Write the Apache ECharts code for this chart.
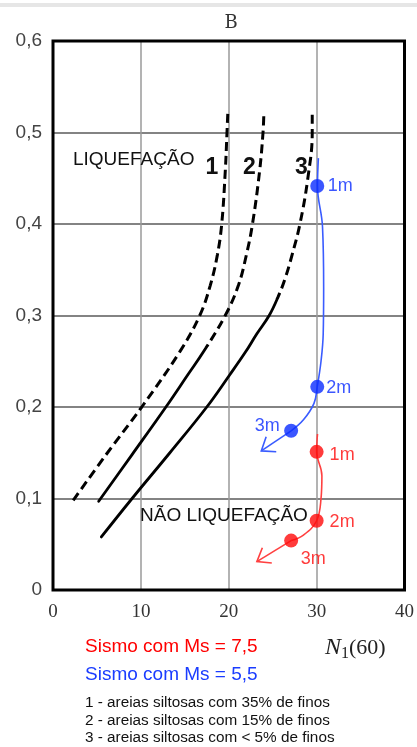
<!DOCTYPE html>
<html><head><meta charset="utf-8">
<script src="https://cdn.jsdelivr.net/npm/echarts@6/dist/echarts.min.js"></script>
<style>html,body{margin:0;padding:0;background:#fff}#c{width:417px;height:747px}</style>
</head><body><div id="c"></div>
<script>
// ---- data ----
const xTickLabels = ['0', '10', '20', '30', '40'];
const yTickLabels = ['0', '0,1', '0,2', '0,3', '0,4', '0,5', '0,6'];

// curve 1: dashed over its whole length
const curve1 = [[2.3,0.098],[6.2,0.15],[10.1,0.2],[14.4,0.26],[16.7,0.3],[17.9,0.333],[18.7,0.366],[19.2,0.4],[19.6,0.457],[19.8,0.5],[19.9,0.523]];
// curve 2: solid below curve2Break, dashed above
const curve2 = [[5.2,0.097],[9.0,0.148],[12.85,0.2],[15.4,0.236],[17.1,0.26],[19.6,0.3],[21.1,0.333],[22.0,0.366],[22.7,0.4],[23.5,0.457],[23.9,0.5],[24.0,0.523]];
const curve2Break = 0.266;
// curve 3: solid below curve3Break, dashed above
const curve3 = [[5.5,0.058],[9.0,0.1],[13.3,0.15],[17.5,0.2],[20.1,0.235],[21.9,0.26],[23.2,0.28],[24.6,0.3],[25.6,0.32],[26.4,0.34],[27.2,0.366],[28.1,0.4],[29.0,0.45],[29.5,0.5],[29.5,0.523]];
const curve3Break = 0.318;

const blueCurve = [[30.2,0.472],[30.1,0.4415],[30.67,0.397],[30.8,0.33],[30.75,0.28],[30.5,0.25],[30.07,0.222],[29.7,0.204],[28.5,0.186],[27.1,0.174]];
const blueArrow = [[27.1,0.174],[23.7,0.152]];
const blueDots = [[30.07,0.4415],[30.07,0.222],[27.1,0.174]];

const redCurve = [[30.1,0.1705],[30.0,0.151],[30.6,0.125],[30.5,0.1],[30.0,0.0757],[28.5,0.06],[27.1,0.054]];
const redArrow = [[27.1,0.054],[23.2,0.031]];
const redDots = [[30.0,0.151],[30.0,0.0757],[27.1,0.054]];

const depthLabels = ['1m', '2m', '3m'];
const curveLabels = ['1', '2', '3'];

// ---- styling ----
const BLUE = '#0a2cff', BLUE_LINE = '#3a5cff';
const RED = '#ff0a0a', RED_LINE = '#ff4040';
const SANS = "'Liberation Sans', Arial, sans-serif";
const SERIF = "'Liberation Serif', 'Times New Roman', serif";
const blueLabelOffsets = [[23, 0], [21.5, 1.5], [-24, -5]];
const redLabelOffsets = [[25.5, 3], [25.5, 1], [22, 18]];
const CLEAR = 'rgba(0,0,0,0)';
const H = 747;

function dotData(points, offsets) {
  return points.map((p, i) => ({ value: p, name: depthLabels[i], label: { offset: offsets[i] } }));
}

function arrowRenderer(color) {
  return function (params, api) {
    const p1 = api.coord([api.value(0), api.value(1)]);
    const p2 = api.coord([api.value(2), api.value(3)]);
    const ang = Math.atan2(p2[1] - p1[1], p2[0] - p1[0]);
    const L = 15, a = 37 * Math.PI / 180;
    const l = [p2[0] - L * Math.cos(ang - a), p2[1] - L * Math.sin(ang - a)];
    const r = [p2[0] - L * Math.cos(ang + a), p2[1] - L * Math.sin(ang + a)];
    return {
      type: 'group',
      children: [
        { type: 'line', shape: { x1: p1[0], y1: p1[1], x2: p2[0], y2: p2[1] }, style: { stroke: color, lineWidth: 1.6 } },
        { type: 'polyline', shape: { points: [l, p2, r] }, style: { stroke: color, lineWidth: 1.6, fill: null } }
      ]
    };
  };
}

function curveSeries(data, dashed) {
  return { type: 'line', data: data, smooth: 0.4, symbol: 'none', z: 3, silent: true,
    lineStyle: dashed ? { color: '#000', width: 3, type: [9, 5], cap: 'butt' }
                      : { color: '#000', width: 2.8, type: 'solid', cap: 'round' } };
}

const chart = echarts.init(document.getElementById('c'), null, { renderer: 'canvas' });
chart.setOption({
  animation: false,
  backgroundColor: '#fff',
  grid: { left: 53, top: 41, right: 8, bottom: 157, show: true, borderColor: '#000', borderWidth: 3, backgroundColor: 'transparent', z: 5 },
  xAxis: {
    type: 'value', min: 0, max: 40, interval: 10,
    axisLine: { show: false }, axisTick: { show: false },
    axisLabel: { margin: 13, color: '#333', fontSize: 19, fontFamily: SERIF,
      formatter: v => xTickLabels[Math.round(v / 10)] },
    splitLine: { show: true, lineStyle: { color: '#9a9a9a', width: 1.5 } }
  },
  yAxis: {
    type: 'value', min: 0, max: 0.6, interval: 0.1,
    axisLine: { show: false }, axisTick: { show: false },
    axisLabel: { margin: 11, color: '#444', fontSize: 19, fontFamily: SANS,
      formatter: v => yTickLabels[Math.round(v * 10)] },
    splitLine: { show: true, lineStyle: { color: '#5a5a5a', width: 1.5 } }
  },
  series: [
    curveSeries(curve1, true),
    curveSeries(curve2, false),
    curveSeries(curve2, true),
    curveSeries(curve3, false),
    curveSeries(curve3, true),
    { type: 'line', data: blueCurve, smooth: 0.4, symbol: 'none', z: 4, lineStyle: { color: BLUE_LINE, width: 1.6 } },
    { type: 'line', data: redCurve, smooth: 0.4, symbol: 'none', z: 4, lineStyle: { color: RED_LINE, width: 1.6 } },
    { type: 'custom', renderItem: arrowRenderer(BLUE_LINE), z: 4, encode: { x: [0, 2], y: [1, 3] },
      data: [blueArrow[0].concat(blueArrow[1])] },
    { type: 'custom', renderItem: arrowRenderer(RED_LINE), z: 4, encode: { x: [0, 2], y: [1, 3] },
      data: [redArrow[0].concat(redArrow[1])] },
    { type: 'scatter', data: dotData(blueDots, blueLabelOffsets), symbolSize: 14, z: 6,
      itemStyle: { color: BLUE },
      label: { show: true, position: 'inside', formatter: p => p.name, color: BLUE, fontSize: 18, fontFamily: SANS } },
    { type: 'scatter', data: dotData(redDots, redLabelOffsets), symbolSize: 14, z: 6,
      itemStyle: { color: RED },
      label: { show: true, position: 'inside', formatter: p => p.name, color: RED, fontSize: 18, fontFamily: SANS } }
  ],
  graphic: [
    { type: 'rect', shape: { x: 0, y: 3, width: 417, height: 4 }, style: { fill: '#e6e6e6' }, silent: true },
    { type: 'text', style: { x: 231, y: 23, text: 'B', font: "18px 'DejaVu Serif', serif", fill: '#333', align: 'center', verticalAlign: 'middle' } },
    { type: 'text', z: 10, style: { x: 73, y: 160, text: 'LIQUEFAÇÃO', font: "19px " + SANS, fill: '#111', align: 'left', verticalAlign: 'middle' } },
    { type: 'text', z: 10, style: { x: 140, y: 516, text: 'NÃO LIQUEFAÇÃO', font: "19px " + SANS, fill: '#111', align: 'left', verticalAlign: 'middle' } },
    { type: 'text', z: 10, style: { x: 212, y: 168, text: curveLabels[0], font: "bold 23px " + SANS, fill: '#111', align: 'center', verticalAlign: 'middle' } },
    { type: 'text', z: 10, style: { x: 249.5, y: 168, text: curveLabels[1], font: "bold 23px " + SANS, fill: '#111', align: 'center', verticalAlign: 'middle' } },
    { type: 'text', z: 10, style: { x: 301.5, y: 168, text: curveLabels[2], font: "bold 23px " + SANS, fill: '#111', align: 'center', verticalAlign: 'middle' } },
    { type: 'text', style: { x: 85, y: 647, text: 'Sismo com Ms = 7,5', font: "19px " + SANS, fill: '#ff0000', align: 'left', verticalAlign: 'middle' } },
    { type: 'text', style: { x: 85, y: 675, text: 'Sismo com Ms = 5,5', font: "19px " + SANS, fill: '#1a3cff', align: 'left', verticalAlign: 'middle' } },
    { type: 'text', style: { x: 325, y: 648, text: '{n|N}{s|1}{p|(60)}', align: 'left', verticalAlign: 'middle',
      rich: {
        n: { fontFamily: SERIF, fontStyle: 'italic', fontSize: 24, fill: '#222', lineHeight: 28, verticalAlign: 'middle' },
        s: { fontFamily: SERIF, fontSize: 16, fill: '#222', lineHeight: 28, verticalAlign: 'bottom' },
        p: { fontFamily: SERIF, fontSize: 22, fill: '#222', lineHeight: 28, verticalAlign: 'middle' }
      } } },
    { type: 'text', style: { x: 85, y: 703, text: '1 - areias siltosas com 35% de finos', font: "15.3px " + SANS, fill: '#111', align: 'left', verticalAlign: 'middle' } },
    { type: 'text', style: { x: 85, y: 721, text: '2 - areias siltosas com 15% de finos', font: "15.3px " + SANS, fill: '#111', align: 'left', verticalAlign: 'middle' } },
    { type: 'text', style: { x: 85, y: 738, text: '3 - areias siltosas com < 5% de finos', font: "15.3px " + SANS, fill: '#111', align: 'left', verticalAlign: 'middle' } }
  ]
});

// split curves 2 and 3 into a solid lower part and a dashed upper part,
// with the break height converted to pixels through the chart's own y scale
function splitColor(brk, upperColor, lowerColor) {
  const yPix = chart.convertToPixel({ gridIndex: 0 }, [0, brk])[1];
  const f = yPix / H;
  return new echarts.graphic.LinearGradient(0, 0, 0, H, [
    { offset: 0, color: upperColor }, { offset: f, color: upperColor },
    { offset: f, color: lowerColor }, { offset: 1, color: lowerColor }
  ], true);
}
chart.setOption({
  series: [
    {},
    { lineStyle: { color: splitColor(curve2Break, CLEAR, '#000') } },
    { lineStyle: { color: splitColor(curve2Break, '#000', CLEAR) } },
    { lineStyle: { color: splitColor(curve3Break, CLEAR, '#000') } },
    { lineStyle: { color: splitColor(curve3Break, '#000', CLEAR) } }
  ]
});
</script>
</body></html>
